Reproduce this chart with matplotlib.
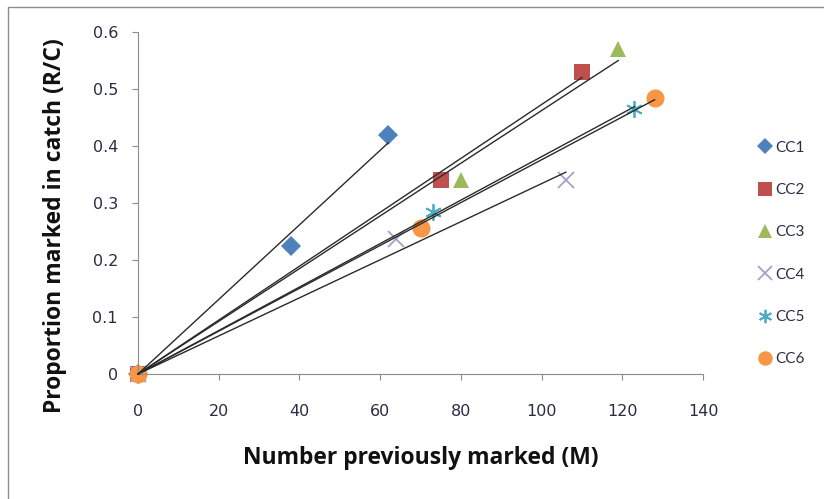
import matplotlib.pyplot as plt
from matplotlib.patches import Rectangle
import numpy as np

# data (all series start at the origin)
series = ["CC1", "CC2", "CC3", "CC4", "CC5", "CC6"]
x_cc1 = [0, 38, 62]
y_cc1 = [0, 0.225, 0.42]
x_cc2 = [0, 75, 110]
y_cc2 = [0, 0.34, 0.53]
x_cc3 = [0, 80, 119]
y_cc3 = [0, 0.34, 0.57]
x_cc4 = [0, 64, 106]
y_cc4 = [0, 0.237, 0.34]
x_cc5 = [0, 73, 123]
y_cc5 = [0, 0.285, 0.465]
x_cc6 = [0, 70, 128]
y_cc6 = [0, 0.256, 0.485]

xs = [x_cc1, x_cc2, x_cc3, x_cc4, x_cc5, x_cc6]
ys = [y_cc1, y_cc2, y_cc3, y_cc4, y_cc5, y_cc6]

colors = ["#4F81BD", "#C0504D", "#9BBB59", "#A89EC8", "#4BACC6", "#F79646"]
markers = ["D", "s", "^", "x", "*", "o"]
sizes = [10, 12, 12, 12, 12, 13]

plt.rcParams["font.family"] = ["Lato", "DejaVu Sans"]
txt = "#2b2b45"

fig = plt.figure(figsize=(8.24, 4.99), dpi=100)
fig.patches.append(Rectangle((8 / 824, -0.1), 1.2, 0.1 + (499 - 7) / 499,
                             transform=fig.transFigure, fill=False,
                             edgecolor="#8c8c8c", linewidth=1))
ax = fig.add_axes([0.1675, 0.2505, 0.6857, 0.6854])

for name, x, y, c, m, s in zip(series, xs, ys, colors, markers, sizes):
    x = np.array(x, dtype=float)
    y = np.array(y, dtype=float)
    # linear trend line through the origin
    slope = (x * y).sum() / (x * x).sum()
    xl = np.array([0, x.max()])
    ax.plot(xl, slope * xl, color="#2a2a2a", linewidth=1.0, zorder=3)
    if m == "x":
        ax.plot(x, y, linestyle="none", marker="x", color=c, markersize=s,
                markeredgewidth=1.3, label=name, zorder=2)
    elif m == "*":
        ax.plot(x, y, linestyle="none", marker=(6, 2, 0), color=c, markersize=s,
                markeredgewidth=1.3, label=name, zorder=2)
    else:
        ax.plot(x, y, linestyle="none", marker=m, color=c, markersize=s,
                markeredgewidth=0, label=name, zorder=2)

ax.set_xlim(0, 140)
ax.set_ylim(0, 0.6)
ax.set_xticks(np.arange(0, 141, 20))
ax.set_yticks([0, 0.1, 0.2, 0.3, 0.4, 0.5, 0.6])
ax.set_yticklabels(["0", "0.1", "0.2", "0.3", "0.4", "0.5", "0.6"])
for sp in ["top", "right"]:
    ax.spines[sp].set_visible(False)
for sp in ["left", "bottom"]:
    ax.spines[sp].set_color("#8c8c8c")
ax.tick_params(colors="#8c8c8c", labelcolor=txt, labelsize=11.5, length=4.5)
ax.tick_params(axis="x", pad=17)
ax.tick_params(axis="y", pad=10)
for lab in ax.get_xticklabels() + ax.get_yticklabels():
    lab.set_family("DejaVu Sans")
for ln in ax.lines:
    ln.set_clip_on(False)

ax.set_xlabel("Number previously marked (M)", fontsize=16.5, fontweight="bold",
              color="#111111", family="Open Sans")
ax.set_ylabel("Proportion marked in catch (R/C)", fontsize=16.5, fontweight="bold",
              color="#111111", family="Open Sans")
ax.xaxis.set_label_coords(0.5, (374 - 458) / 342, transform=ax.transAxes)
ax.yaxis.set_label_coords((55 - 138) / 565, (374 - 226) / 342, transform=ax.transAxes)
ax.xaxis.label.set_va("center")
ax.yaxis.label.set_va("center")

ax.legend(loc="center left", bbox_to_anchor=(0.9, 0.492),
          bbox_transform=fig.transFigure, frameon=False, fontsize=11,
          labelspacing=1.85, handletextpad=0.1, handlelength=1.2,
          markerscale=0.8, labelcolor=txt)

fig.savefig("out.png", dpi=100)
